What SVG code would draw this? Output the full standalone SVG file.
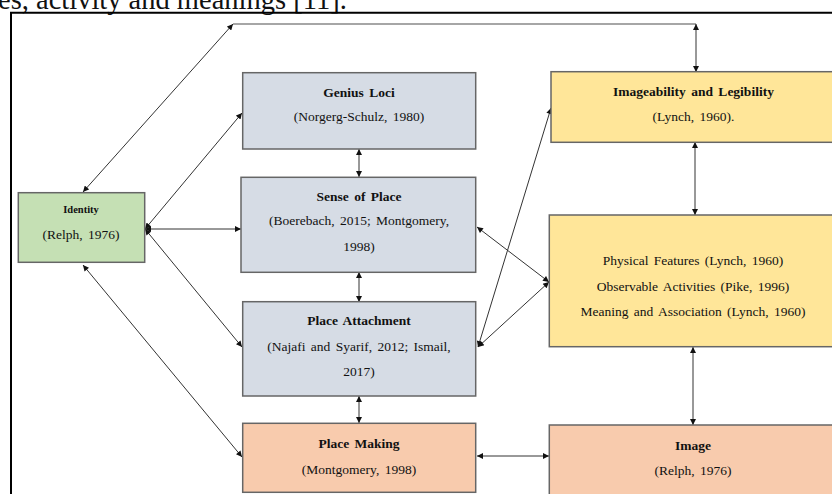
<svg xmlns="http://www.w3.org/2000/svg" width="832" height="494" viewBox="0 0 832 494">
<defs>
<marker id="ah" viewBox="0 0 10 10" refX="10" refY="5" markerWidth="7" markerHeight="6" orient="auto-start-reverse" markerUnits="userSpaceOnUse"><path d="M0,0 L10,5 L0,10 z" fill="#111"/></marker>
<style>
.box{stroke:#666;stroke-width:1.5}
.green{fill:#c5e0b4}
.blue{fill:#d6dce5}
.yellow{fill:#ffe699}
.peach{fill:#f8cbad}
text{font-family:"Liberation Serif","Times New Roman",serif;fill:#111;text-anchor:middle;font-size:13.5px;word-spacing:2px}
.t{font-weight:bold}
.c{stroke:#333;stroke-width:1;fill:none;marker-start:url(#ah);marker-end:url(#ah)}
</style>
</defs>
<rect width="832" height="494" fill="#fff"/>
<text x="-2" y="8.5" style="text-anchor:start;font-size:28.5px;word-spacing:0">es, activity and meanings [11].</text>
<path d="M11,500 V12.7 H840" fill="none" stroke="#000" stroke-width="2"/>

<g id="connectors">
<line class="c" x1="83" y1="192" x2="233" y2="24"/>
<line x1="233" y1="24" x2="696" y2="24" stroke="#888" stroke-width="1.5"/>
<line class="c" x1="696" y1="24" x2="696" y2="72"/>
<line class="c" x1="145" y1="229" x2="242" y2="113"/>
<line class="c" x1="145" y1="229" x2="241" y2="229"/>
<line class="c" x1="145" y1="229" x2="242" y2="347"/>
<line class="c" x1="83" y1="265" x2="242" y2="457"/>
<line class="c" x1="359" y1="149" x2="359" y2="177"/>
<line class="c" x1="359" y1="272" x2="359" y2="302"/>
<line class="c" x1="359" y1="396" x2="359" y2="423"/>
<line class="c" x1="477" y1="227" x2="549" y2="282"/>
<line class="c" x1="478" y1="347" x2="549" y2="282"/>
<line class="c" x1="478" y1="347" x2="551" y2="108"/>
<line class="c" x1="695" y1="142" x2="695" y2="215"/>
<line class="c" x1="693" y1="347" x2="693" y2="425"/>
<line class="c" x1="477" y1="456" x2="549" y2="456"/>
</g>

<g id="identity">
<rect class="box green" x="18.3" y="192.7" width="126.4" height="69.6"/>
<text class="t" x="81" y="212.5" style="font-size:10.5px">Identity</text>
<text x="81" y="238.5">(Relph, 1976)</text>
</g>
<g id="genius-loci">
<rect class="box blue" x="242.7" y="72.7" width="233" height="76.3"/>
<text class="t" x="359" y="97">Genius Loci</text>
<text x="359" y="121">(Norgerg-Schulz, 1980)</text>
</g>
<g id="sense-of-place">
<rect class="box blue" x="241" y="177.3" width="234.7" height="95"/>
<text class="t" x="359" y="201">Sense of Place</text>
<text x="359" y="224.5">(Boerebach, 2015; Montgomery,</text>
<text x="359" y="250.5">1998)</text>
</g>
<g id="place-attachment">
<rect class="box blue" x="242.7" y="301.7" width="233" height="94.3"/>
<text class="t" x="359" y="325">Place Attachment</text>
<text x="359" y="351">(Najafi and Syarif, 2012; Ismail,</text>
<text x="359" y="376">2017)</text>
</g>
<g id="place-making">
<rect class="box peach" x="242.7" y="423.3" width="233" height="69"/>
<text class="t" x="359" y="448">Place Making</text>
<text x="359" y="473.5">(Montgomery, 1998)</text>
</g>
<g id="imageability">
<rect class="box yellow" x="551" y="71.7" width="290" height="70.6"/>
<text class="t" x="693.5" y="96">Imageability and Legibility</text>
<text x="693.5" y="121">(Lynch, 1960).</text>
</g>
<g id="physical-features">
<rect class="box yellow" x="549.3" y="215" width="292" height="131.7"/>
<text x="693" y="264.5">Physical Features (Lynch, 1960)</text>
<text x="693" y="290.5">Observable Activities (Pike, 1996)</text>
<text x="693" y="315.5">Meaning and Association (Lynch, 1960)</text>
</g>
<g id="image">
<rect class="box peach" x="549.3" y="425" width="292" height="80"/>
<text class="t" x="693" y="449.5">Image</text>
<text x="693" y="474.5">(Relph, 1976)</text>
</g>
</svg>
